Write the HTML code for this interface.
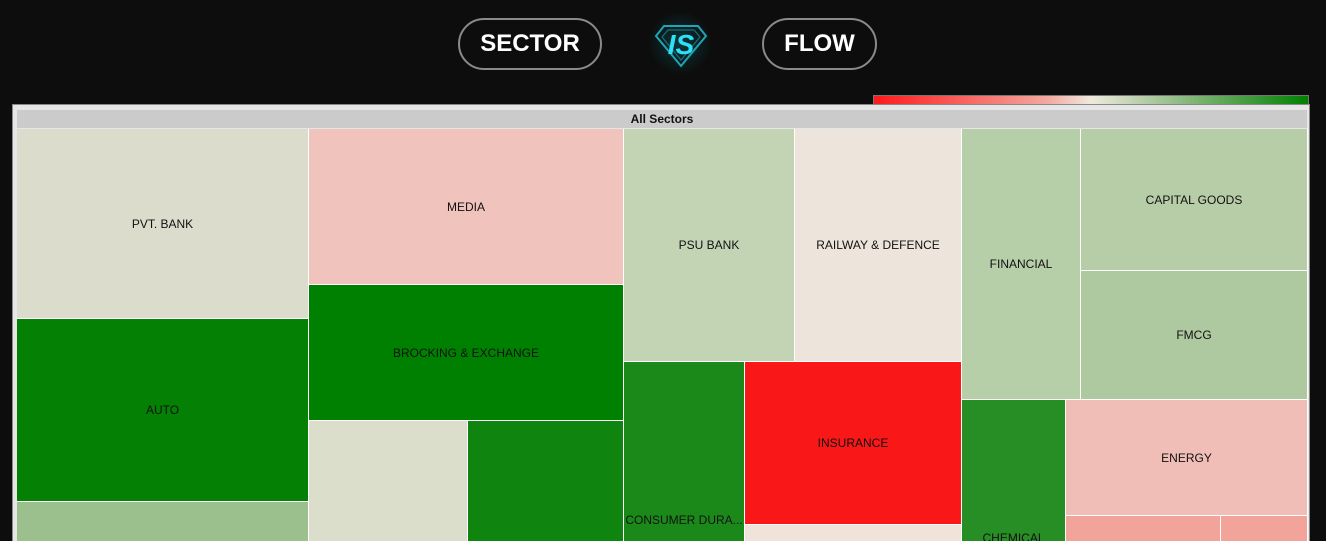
<!DOCTYPE html>
<html><head><meta charset="utf-8"><style>
html,body{margin:0;padding:0;width:1326px;height:541px;overflow:hidden;background:#0d0d0d;font-family:"Liberation Sans",sans-serif;}
#wrap{position:relative;width:1326px;height:541px;overflow:hidden;}
.btn{position:absolute;top:18px;height:48px;border:2px solid #8a8a8a;border-radius:26px;color:#fff;font-weight:bold;font-size:24px;line-height:48px;text-align:center;}
.frame{position:absolute;left:12px;top:104px;width:1298px;height:437px;background:#e6e6e6;border:1px solid #888;border-bottom:none;box-sizing:border-box;}
.c{position:absolute;display:flex;align-items:center;justify-content:center;font-size:12px;color:#111;white-space:nowrap;overflow:hidden;}
.t{align-items:flex-start;line-height:14px;box-sizing:border-box;}
</style></head><body><div id="wrap">
<div class="btn" style="left:458px;width:140px;">SECTOR</div>
<div class="btn" style="left:762px;width:111px;">FLOW</div>
<div style="position:absolute;left:640px;top:8px;width:80px;height:70px;background:radial-gradient(circle,rgba(0,180,200,0.25),rgba(0,0,0,0) 60%);"></div>
<svg style="position:absolute;left:654px;top:24px" width="54" height="44" viewBox="0 0 54 44">
<polygon points="10,2 44,2 52,12 27,42 2,12" fill="none" stroke="#1fa5b5" stroke-width="2"/>
<polygon points="14,6 40,6 46,13 27,36 8,13" fill="none" stroke="#16707c" stroke-width="1.2"/>
<text x="27" y="30" text-anchor="middle" font-family="Liberation Sans" font-weight="bold" font-style="italic" font-size="28" fill="#2ee0f5">IS</text>
</svg>
<div style="position:absolute;left:873px;top:95px;width:436px;height:10px;border:1px solid #777;box-sizing:border-box;background:linear-gradient(to right,#ff1a1a,#f3a8a0 40%,#efe9dd 50%,#a9c79c 65%,#008000);"></div>
<div class="frame"></div>
<div style="position:absolute;left:17px;top:110px;width:1290px;height:18px;background:#cbcbcb;font-size:12px;font-weight:bold;text-align:center;line-height:18px;color:#111;">All Sectors</div>
<div style="position:absolute;left:17px;top:129px;width:1291px;height:412px;background:#fff;"></div>
<div class="c" style="left:17px;top:129px;width:291px;height:189px;background:#dcdccc">PVT. BANK</div>
<div class="c" style="left:309px;top:129px;width:314px;height:155px;background:#f0c4bc">MEDIA</div>
<div class="c" style="left:309px;top:285px;width:314px;height:135px;background:#008000">BROCKING &amp; EXCHANGE</div>
<div class="c" style="left:624px;top:129px;width:170px;height:232px;background:#c3d4b5">PSU BANK</div>
<div class="c" style="left:795px;top:129px;width:166px;height:232px;background:#ede5db">RAILWAY &amp; DEFENCE</div>
<div class="c" style="left:962px;top:129px;width:118px;height:270px;background:#b6cfa8">FINANCIAL</div>
<div class="c" style="left:1081px;top:129px;width:226px;height:141px;background:#b6cda8">CAPITAL GOODS</div>
<div class="c" style="left:1081px;top:271px;width:226px;height:128px;background:#aec9a0">FMCG</div>
<div class="c" style="left:17px;top:319px;width:291px;height:182px;background:#048004">AUTO</div>
<div class="c" style="left:17px;top:502px;width:291px;height:39px;background:#9bc08e"></div>
<div class="c" style="left:309px;top:421px;width:158px;height:120px;background:#dcdecc"></div>
<div class="c" style="left:468px;top:421px;width:155px;height:120px;background:#0f850f"></div>
<div class="c t" style="left:624px;top:362px;width:120px;height:179px;padding-top:151px;background:#1a891a">CONSUMER DURA...</div>
<div class="c" style="left:745px;top:362px;width:216px;height:162px;background:#fa1717">INSURANCE</div>
<div class="c" style="left:745px;top:525px;width:216px;height:16px;background:#f0e4da"></div>
<div class="c t" style="left:962px;top:400px;width:103px;height:141px;padding-top:131px;background:#268e25">CHEMICAL</div>
<div class="c" style="left:1066px;top:400px;width:241px;height:115px;background:#f0beb6">ENERGY</div>
<div class="c" style="left:1066px;top:516px;width:154px;height:25px;background:#f2a49b"></div>
<div class="c" style="left:1221px;top:516px;width:86px;height:25px;background:#f2a49b"></div>
</div></body></html>
